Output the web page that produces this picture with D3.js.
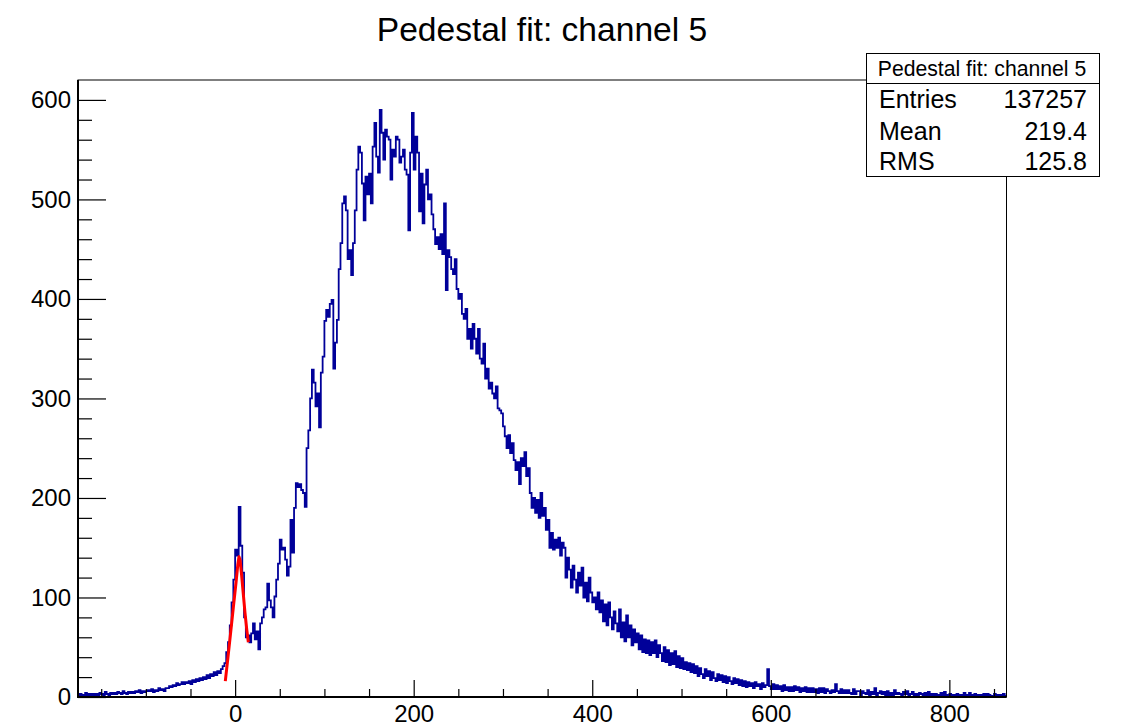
<!DOCTYPE html>
<html><head><meta charset="utf-8">
<script src="https://cdn.jsdelivr.net/npm/d3@7"></script>
<style>html,body{margin:0;padding:0;background:#fff;} svg{display:block;font-family:"Liberation Sans",Arial,Helvetica,sans-serif;}</style>
</head><body><svg id="c" width="1121" height="722"></svg>
<script>
const chartTitle = "Pedestal fit: channel 5";
const xDomain = [-176, 864];
const yDomain = [0, 620];
const binLow = -176, binWidth = 2;
const counts = [
2,3,1,2,4,2,3,1,3,2,
3,2,4,3,2,5,3,2,4,3,
4,3,5,4,3,6,4,3,5,4,
5,4,6,5,7,4,6,5,6,7,
6,8,5,7,6,9,7,8,6,9,
9,11,10,12,11,14,12,13,15,13,
15,14,16,13,17,15,18,16,19,17,
20,18,22,19,23,21,25,22,26,24,
28,31,34,45,55,72,95,118,148,142,
191,152,125,80,60,62,55,64,74,58,
66,48,74,80,88,90,114,97,90,80,
101,118,134,158,148,150,138,122,131,178,
145,190,215,211,214,208,205,191,250,268,
300,329,316,292,305,271,326,342,378,389,
382,395,399,330,356,379,430,456,496,503,
489,440,449,424,456,489,530,553,547,516,
479,523,505,526,496,553,577,543,527,590,
567,540,570,563,560,520,550,543,563,560,
537,543,550,530,525,469,547,587,530,563,
547,488,526,476,515,530,500,505,485,470,
455,462,450,465,445,496,409,449,442,430,
425,440,410,400,405,385,380,390,360,370,
350,375,360,345,370,340,335,355,320,330,
310,316,305,300,312,290,288,285,272,262,
250,263,245,255,238,228,236,214,240,232,
246,222,230,205,190,200,185,198,180,205,
182,190,168,178,150,165,148,158,150,160,
142,155,150,120,140,128,110,132,118,105,
125,112,130,100,115,96,120,105,95,100,
88,105,85,97,76,93,72,95,80,68,
86,74,66,88,60,75,56,82,60,72,
52,68,55,64,48,62,45,58,44,57,
42,55,44,57,40,52,44,36,50,35,
47,32,44,33,46,30,41,29,39,28,
35,27,34,25,33,24,31,21,29,23,
19,28,21,26,17,25,19,16,23,17,
22,15,21,14,20,16,13,19,14,18,
12,17,11,16,10,15,11,14,9,15,
11,13,8,14,10,12,28,11,8,13,
8,12,8,11,6,12,7,10,6,10,
6,11,7,10,5,9,6,10,5,9,
5,9,5,8,4,9,5,9,4,8,
6,4,7,5,13,6,4,8,4,7,
4,7,4,3,8,3,6,6,2,6,
4,3,7,2,5,3,9,2,4,6,
3,5,2,6,2,4,2,7,3,4,
3,2,5,3,6,2,3,5,2,3,
2,4,3,2,4,1,5,2,3,2,
3,2,1,4,2,5,2,1,3,2,
2,1,3,2,1,2,4,1,2,4,
1,2,3,1,2,1,2,3,1,3,
2,1,1,3,2,1,2,1,3,1
];
const fitX = [-11, -8, -5, -2, 1, 3, 4.3, 5.5, 7, 9, 11, 13, 14.8];
const fitY = [16, 40, 65, 90, 115, 133, 141, 138, 125, 105, 85, 68, 55];
const xMajorTicks = [0, 200, 400, 600, 800];
const xMinorTicks = [-150, -100, -50, 50, 100, 150, 250, 300, 350, 450, 500, 550, 650, 700, 750, 850];
const yMajorTicks = [0, 100, 200, 300, 400, 500, 600];
const yMinorTicks = [20,40,60,80,120,140,160,180,220,240,260,280,320,340,360,380,420,440,460,480,520,540,560,580];
const statsTitle = "Pedestal fit: channel 5";
const statsLabels = ["Entries", "Mean", "RMS"];
const statsValues = ["137257", "219.4", "125.8"];

const svg = d3.select("#c");
const F = {left: 78, top: 80, right: 1006.5, bottom: 697};
const x = d3.scaleLinear().domain(xDomain).range([F.left, F.right]);
const y = d3.scaleLinear().domain(yDomain).range([F.bottom, F.top]);

svg.append("rect").attr("width",1121).attr("height",722).attr("fill","#fff");

// title
svg.append("text").attr("x", 542).attr("y", 41).attr("text-anchor","middle")
  .attr("font-size", 33.6).attr("fill","#000").text(chartTitle);

// clip
svg.append("clipPath").attr("id","clip").append("rect")
  .attr("x",F.left).attr("y",F.top).attr("width",F.right-F.left).attr("height",F.bottom-F.top);

// histogram
const pts = counts.map((c,i)=>[binLow + i*binWidth, c]);
pts.push([binLow + counts.length*binWidth, counts[counts.length-1]]);
const hline = d3.line().x(d=>x(d[0])).y(d=>y(d[1])).curve(d3.curveStepAfter);
svg.append("path").attr("clip-path","url(#clip)").attr("d", hline(pts))
  .attr("fill","none").attr("stroke","#000099").attr("stroke-width",1.8).attr("stroke-linejoin","miter");

// fit
const fline = d3.line().x((d,i)=>x(fitX[i])).y((d,i)=>y(fitY[i]));
svg.append("path").attr("d", fline(fitX)).attr("fill","none")
  .attr("stroke","#ff0000").attr("stroke-width",3).attr("stroke-linejoin","round");

// frame
svg.append("rect").attr("x",F.left).attr("y",F.top).attr("width",F.right-F.left).attr("height",F.bottom-F.top)
  .attr("fill","none").attr("stroke","#000").attr("stroke-width",1);

// y axis
const yMaj = svg.append("g").attr("transform",`translate(${F.left},0)`)
  .call(d3.axisLeft(y).tickValues(yMajorTicks).tickSize(-28).tickPadding(7).tickFormat(d3.format("d")));
const yMin = svg.append("g").attr("transform",`translate(${F.left},0)`)
  .call(d3.axisLeft(y).tickValues(yMinorTicks).tickSize(-14).tickFormat(""));
// x axis
const xMaj = svg.append("g").attr("transform",`translate(0,${F.bottom})`)
  .call(d3.axisBottom(x).tickValues(xMajorTicks).tickSize(-17).tickPadding(8).tickFormat(d3.format("d")));
const xMin = svg.append("g").attr("transform",`translate(0,${F.bottom})`)
  .call(d3.axisBottom(x).tickValues(xMinorTicks).tickSize(-8).tickFormat(""));
[yMaj,yMin,xMaj,xMin].forEach(g=>{
  g.select(".domain").remove();
  g.selectAll("line").attr("stroke","#000").attr("stroke-width",1.2);
  g.selectAll("text").attr("font-size",24).attr("fill","#000")
    .attr("font-family",'"Liberation Sans",Arial,Helvetica,sans-serif');
});
// thick axis lines
svg.append("line").attr("x1",F.left).attr("x2",F.left).attr("y1",F.top).attr("y2",F.bottom+1)
  .attr("stroke","#000").attr("stroke-width",2);
svg.append("line").attr("x1",F.left-1).attr("x2",F.right).attr("y1",F.bottom).attr("y2",F.bottom)
  .attr("stroke","#000").attr("stroke-width",2);

// stats box
const B = {x: 866.5, y: 53.5, w: 233, h: 123};
const sb = svg.append("g");
sb.append("rect").attr("x",B.x).attr("y",B.y).attr("width",B.w).attr("height",B.h)
  .attr("fill","#fff").attr("stroke","#000").attr("stroke-width",1);
sb.append("line").attr("x1",B.x).attr("x2",B.x+B.w).attr("y1",83.5).attr("y2",83.5)
  .attr("stroke","#000").attr("stroke-width",1);
sb.append("text").attr("x",982).attr("y",76).attr("text-anchor","middle")
  .attr("font-size",21.2).attr("fill","#000").text(statsTitle);
const rowY = [108, 139.5, 170];
statsLabels.forEach((l,i)=>{
  sb.append("text").attr("x",879).attr("y",rowY[i]).attr("font-size",25).attr("fill","#000").text(l);
  sb.append("text").attr("x",1087).attr("y",rowY[i]).attr("text-anchor","end")
    .attr("font-size",25).attr("fill","#000").text(statsValues[i]);
});
</script></body></html>
